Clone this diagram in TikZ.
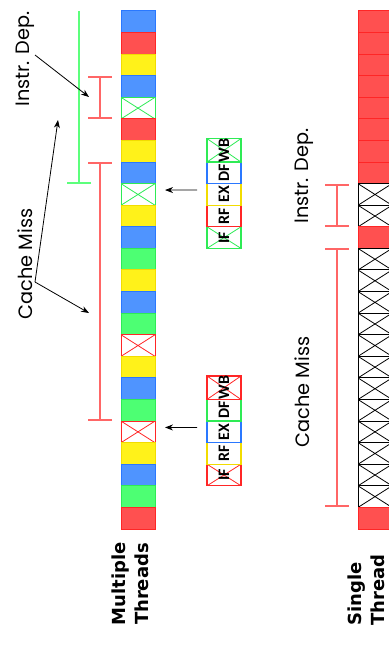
\documentclass[tikz,border=0pt]{standalone}
\usepackage{fontspec}
\setmainfont{Poppins}
\newfontfamily\stagefont{Carlito}
\newfontfamily\headfont{DejaVu Sans}
\usetikzlibrary{arrows.meta, positioning}
\definecolor{cellBlue}{HTML}{4F94FF}
\definecolor{cellBlueD}{HTML}{2A78FF}
\definecolor{cellRed}{HTML}{FF5050}
\definecolor{cellRedD}{HTML}{FF2626}
\definecolor{cellYel}{HTML}{FFF21A}
\definecolor{cellYelD}{HTML}{F2DC00}
\definecolor{cellGrn}{HTML}{4DFF73}
\definecolor{cellGrnD}{HTML}{2EEB55}
\definecolor{spanRed}{HTML}{FF6666}
\definecolor{spanGrn}{HTML}{5CFF7C}
\tikzset{
  cell/.style={rectangle, minimum width=25.5pt, minimum height=16.19pt,
               inner sep=0pt, outer sep=0pt, line width=0.75pt},
  cB/.style={cell, fill=cellBlue, draw=cellBlueD},
  cR/.style={cell, fill=cellRed, draw=cellRedD},
  cY/.style={cell, fill=cellYel, draw=cellYelD},
  cG/.style={cell, fill=cellGrn, draw=cellGrnD},
  cX/.style={cell, fill=white, draw=#1,
             path picture={\draw[#1, line width=0.6pt]
               (path picture bounding box.north west) -- (path picture bounding box.south east)
               (path picture bounding box.south west) -- (path picture bounding box.north east);}},
  cXg/.style={cX=cellGrnD},
  cXr/.style={cX=cellRedD},
  cXk/.style={cX=black},
  stage/.style={cell, fill=white, draw=#1, line width=1pt,
                font=\stagefont\bfseries\fontsize{12}{12}\selectfont},
  stageX/.style={cX=#1, line width=1pt,
                 font=\stagefont\bfseries\fontsize{12}{12}\selectfont},
  span/.style={line width=1.5pt, {Bar[width=18pt]}-{Bar[width=18pt]}},
  ptr/.style={-{Stealth[length=6pt, width=4.5pt]}, line width=0.6pt},
  lbl/.style={rotate=90, inner sep=0pt, font=\fontsize{14.5}{17}\selectfont},
  head/.style={rotate=90, inner sep=0pt, align=center,
               font=\headfont\bfseries\fontsize{13.5}{17}\selectfont},
}

\begin{document}
\begin{tikzpicture}[x=0.75pt, y=-0.75pt]
  \useasboundingbox (0,0) rectangle (389,646);
  \clip (0,0) rectangle (389,646);
  % multiple threads
  \foreach \s [count=\i] in {cB,cR,cY,cB,cXg,cR,cY,cB,cXg,cY,cB,cG,
                             cY,cB,cG,cXr,cY,cB,cG,cXr,cY,cB,cG,cR}
    \node[style=\s] (m\i) at (138, {11+(\i-0.5)*21.583}) {};
  % single thread
  \foreach \s [count=\i] in {cR,cR,cR,cR,cR,cR,cR,cR,cXk,cXk,cR,cXk,
                             cXk,cXk,cXk,cXk,cXk,cXk,cXk,cXk,cXk,cXk,cXk,cR}
    \node[style=\s] (s\i) at (375, {11+(\i-0.5)*21.583}) {};

  % pipeline stages
  \node[stageX=cellGrnD] (pa1) at (224, 237.6) {\rotatebox{90}{IF}};
  \node[stage=cellRedD, above=0pt of pa1]  (pa2) {\rotatebox{90}{RF}};
  \node[stage=cellYelD, above=0pt of pa2]  (pa3) {\rotatebox{90}{EX}};
  \node[stage=cellBlueD, above=0pt of pa3] (pa4) {\rotatebox{90}{DF}};
  \node[stageX=cellGrnD, above=0pt of pa4] (pa5) {\rotatebox{90}{WB}};
  \node[stageX=cellRedD] (pb1) at (224, 475.0) {\rotatebox{90}{IF}};
  \node[stage=cellYelD, above=0pt of pb1]  (pb2) {\rotatebox{90}{RF}};
  \node[stage=cellBlueD, above=0pt of pb2] (pb3) {\rotatebox{90}{EX}};
  \node[stage=cellGrnD, above=0pt of pb3]  (pb4) {\rotatebox{90}{DF}};
  \node[stageX=cellRedD, above=0pt of pb4] (pb5) {\rotatebox{90}{WB}};
  \draw[ptr, shorten <=7.5pt, shorten >=7.5pt] ([yshift=3.3pt]pa3.west) -- ([yshift=3.3pt]m9.east);
  \draw[ptr, shorten <=7.5pt, shorten >=7.5pt] ([yshift=3.3pt]pb3.west) -- ([yshift=3.3pt]m20.east);

  % spans
  \draw[spanGrn, line width=1.5pt, -{Bar[width=18pt]}] ([xshift=-44.25pt]m1.north) -- ([xshift=-44.25pt]m9.north);
  \draw[span, spanRed] ([xshift=-28.5pt]m4.north) -- ([xshift=-28.5pt]m6.north);
  \draw[span, spanRed] ([xshift=-28.5pt]m8.north) -- ([xshift=-28.5pt]m20.north);
  \draw[span, spanRed] ([xshift=-28.5pt]s9.north) -- ([xshift=-28.5pt]s11.north);
  \draw[span, spanRed] ([xshift=-28.5pt]s12.north) -- ([xshift=-28.5pt]s24.north);

  % labels
  \node[lbl] (mdep)  at (25,59)   {Instr. Dep.};
  \node[lbl] (mmiss) at (25,264)  {Cache Miss};
  \node[lbl] (sdep)  at (304,176) {Instr. Dep.};
  \node[lbl] (smiss) at (302,392) {Cache Miss};
  \node[head] (mhead) at (130,584) {Multiple\\Threads};
  \node[head, align=left] (shead) at (366,590) {Single\\Thread};

  \coordinate (depSrc)  at (35,55);
  \coordinate (missSrc) at (35,282);
  \coordinate (depTip)  at (89,97);
  \coordinate (grnTip)  at (58,120);
  \coordinate (missTip) at (89,313);
  \draw[ptr] (depSrc) -- (depTip);
  \draw[ptr] (missSrc) -- (grnTip);
  \draw[ptr] (missSrc) -- (missTip);
\end{tikzpicture}
\end{document}
